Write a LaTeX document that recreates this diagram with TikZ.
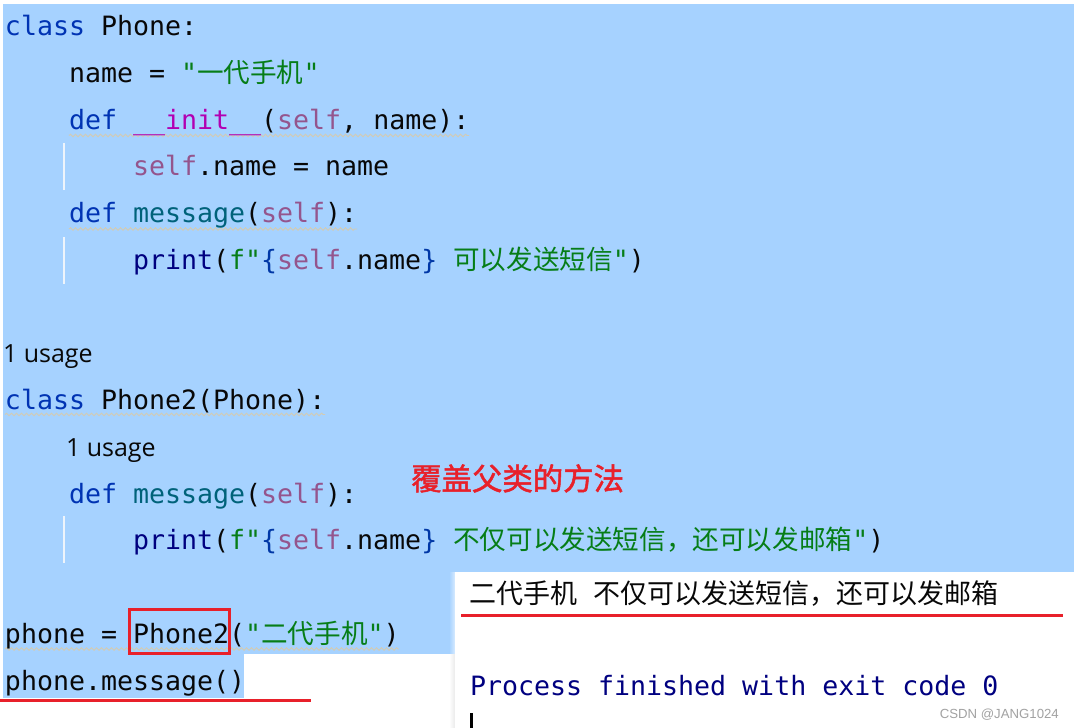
\documentclass[tikz,border=0pt]{standalone}
\usepackage{fontspec}
\usetikzlibrary{decorations.pathmorphing}
\newfontfamily\codefont{DejaVu Sans Mono}
\newfontfamily\cjk{Noto Sans CJK SC}
\newfontfamily\cjkred[FakeBold=1.6]{Noto Sans CJK SC}
\newfontfamily\uifont{Open Sans}
\newfontfamily\wmfont{Liberation Sans}
\definecolor{bgblue}{HTML}{A6D2FF}
\definecolor{kwc}{HTML}{0033B3}
\definecolor{txc}{HTML}{080808}
\definecolor{strc}{HTML}{067D17}
\definecolor{dnc}{HTML}{B200B2}
\definecolor{slfc}{HTML}{94558D}
\definecolor{fnc}{HTML}{00627A}
\definecolor{bic}{HTML}{000080}
\definecolor{brcc}{HTML}{0037A6}
\definecolor{redc}{HTML}{E8202A}
\definecolor{sqc}{HTML}{D4CBB2}
\definecolor{guidec}{HTML}{EEF4FB}
\definecolor{wmc}{HTML}{A2A2A2}
\newcommand\kwd[1]{\textcolor{kwc}{#1}}
\newcommand\strg[1]{\textcolor{strc}{#1}}
\newcommand\dndr[1]{\textcolor{dnc}{#1}}
\newcommand\slf[1]{\textcolor{slfc}{#1}}
\newcommand\fnc[1]{\textcolor{fnc}{#1}}
\newcommand\bltn[1]{\textcolor{bic}{#1}}
\newcommand\brc[1]{\textcolor{brcc}{#1}}
\begin{document}
\begin{tikzpicture}[x=1pt,y=-1pt,
  code/.style={anchor=base west,inner sep=0pt,outer sep=0pt,text=txc,
    font=\codefont\fontsize{26.6pt}{30pt}\selectfont},
  hint/.style={anchor=base west,inner sep=0pt,outer sep=0pt,text=txc,
    font=\uifont\fontsize{25pt}{30pt}\selectfont},
  squig/.style={draw=sqc,line width=0.9pt,decorate,
    decoration={snake,segment length=5pt,amplitude=1.3pt}},
  guide/.style={draw=guidec,line width=2pt},
  redmark/.style={draw=redc,line width=3pt}]
\useasboundingbox (0,0) rectangle (1074,728);
\fill[white] (0,0) rectangle (1074,728);
% selection background
\fill[bgblue] (3,4) rectangle (1074,654);
\fill[bgblue] (3,654) rectangle (244,698);
% indent guides
\draw[guide] (63.5,143) -- (63.5,190);
\draw[guide] (63.5,237) -- (63.5,284);
\draw[guide] (63.5,516) -- (63.5,563);
% squiggles
\draw[squig] (69,135.5) -- (469,135.5);
\draw[squig] (69,229) -- (357,229);
\draw[squig] (5,414.5) -- (325,414.5);
\draw[squig] (5,649) -- (399,649);
% code lines
\node[code] (l1) at (5,35.5) {\kwd{class} Phone:};
\node[code] (l2) at (69,82.25) {name = \strg{"{\cjk 一代手机}"}};
\node[code] (l3) at (69,129) {\kwd{def} \dndr{\_\_init\_\_}(\slf{self}, name):};
\node[code] (l4) at (133,175.75) {\slf{self}.name = name};
\node[code] (l5) at (69,222.5) {\kwd{def} \fnc{message}(\slf{self}):};
\node[code] (l6) at (133,269.25) {\bltn{print}(\strg{f"}\brc{\{}\slf{self}.name\brc{\}}\ \strg{{\cjk 可以发送短信}"})};
\node[hint] (u1) at (3,362.75) {1 usage};
\node[code] (l9) at (5,409.5) {\kwd{class} Phone2(Phone):};
\node[hint] (u2) at (66,456.25) {1 usage};
\node[code] (l11) at (69,503) {\kwd{def} \fnc{message}(\slf{self}):};
\node[code] (l12) at (133,549.75) {\bltn{print}(\strg{f"}\brc{\{}\slf{self}.name\brc{\}}\ \strg{{\cjk 不仅可以发送短信，还可以发邮箱}"})};
\node[code] (l14) at (5,643.25) {phone = Phone2(\strg{"{\cjk 二代手机}"})};
\node[code] (l15) at (5,690) {phone.message()};
% annotation
\node[anchor=base west,inner sep=0pt,text=redc,font=\cjkred\fontsize{30.4pt}{34pt}\selectfont] (note) at (411,490) {覆盖父类的方法};
% output panel
\shade[left color=bgblue,right color=bgblue!45!white] (449,572) rectangle (455,654);
\shade[left color=white,right color=black!8] (449,654) rectangle (455,728);
\fill[white] (455,572) rectangle (1074,728);
\node[anchor=base west,inner sep=0pt,text=txc,font=\cjk\fontsize{27pt}{30pt}\selectfont] (out1) at (469,603) {二代手机\hspace{16pt}不仅可以发送短信，还可以发邮箱};
\node[code,text=bic] (out2) at (470,695) {Process finished with exit code 0};
\fill[black] (470,713) rectangle (472.5,728);
\node[anchor=base east,inner sep=0pt,text=wmc,font=\wmfont\fontsize{13.2pt}{15pt}\selectfont] (wm) at (1059,718) {CSDN @JANG1024};
% red marks
\draw[redmark] (129.2,609.8) rectangle (229.2,653.5);
\draw[redmark] (0,700.3) -- (311,700.3);
\draw[redmark] (461,615.2) -- (1063,615.2);
\end{tikzpicture}
\end{document}
